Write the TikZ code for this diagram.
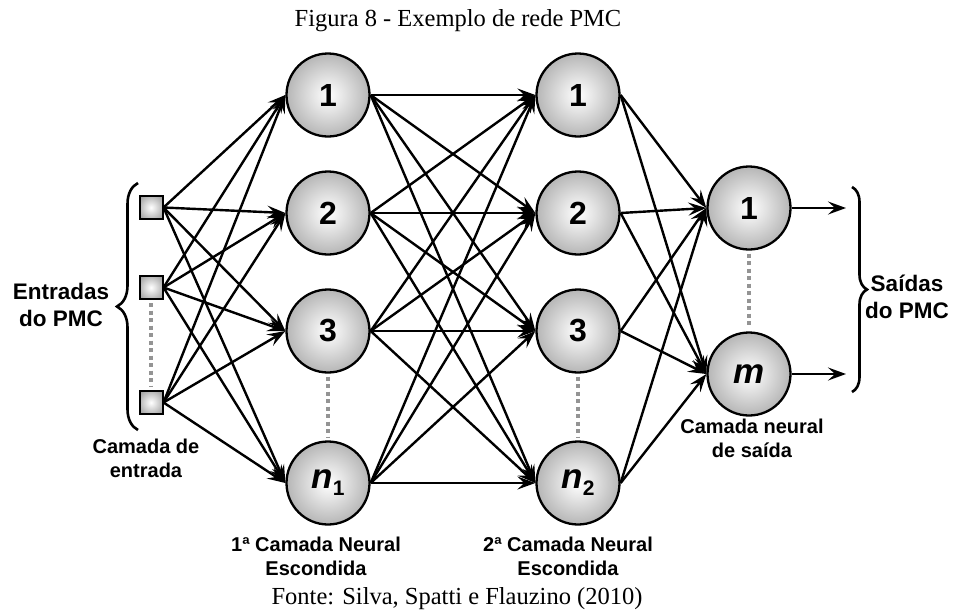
\documentclass[tikz,border=0pt]{standalone}
\usepackage{fontspec}
\setmainfont{Liberation Serif}
\newfontfamily\sans{Liberation Sans}
\usetikzlibrary{arrows.meta,decorations.pathreplacing}

% soft metallic ball: light centre fading to mid grey at the rim
\pgfdeclareradialshading{ball}{\pgfpoint{0bp}{0bp}}{%
  color(0bp)=(white); color(9bp)=(black!10); color(50bp)=(black!58); color(100bp)=(black!58)}

\begin{document}
\begin{tikzpicture}[x=1pt,y=-1pt,
  neuron/.style={circle, draw=black, line width=2.3pt, minimum size=83pt, inner sep=0pt,
    shading=ball, font=\sans\bfseries\fontsize{32}{32}\selectfont},
  inbox/.style={rectangle, draw=black, line width=2pt, minimum size=23pt, inner sep=0pt, shading=ball},
  arr/.style={line width=2.4pt, -{Stealth[length=18pt,width=13pt,inset=7pt]}},
  gap/.style={draw=black!42, line width=4pt, dash pattern=on 4pt off 3.5pt, shorten >=3pt, shorten <=3pt},
  lbl/.style={font=\sans\bfseries\fontsize{20}{24}\selectfont, align=center, inner sep=0pt},
  big/.style={font=\sans\bfseries\fontsize{22.5}{27}\selectfont, align=center, inner sep=0pt},
  caption/.style={font=\fontsize{24.5}{28}\selectfont, inner sep=0pt, anchor=base},
  brc/.style={decorate, line width=2.6pt},
]
\useasboundingbox (0,0) rectangle (954,614);

\newcommand{\nsub}[2]{{\itshape #1}\raisebox{-7pt}{\fontsize{21}{21}\selectfont #2}}

% input layer
\node[inbox] (x1) at (151,207.5) {};
\node[inbox] (x2) at (151,287.5) {};
\node[inbox] (xn) at (151,402.5) {};

% first hidden layer
\node[neuron] (a1) at (328,95) {1};
\node[neuron] (a2) at (328,213) {2};
\node[neuron] (a3) at (328,331) {3};
\node[neuron] (an) at (328,483) {\fontsize{35}{35}\selectfont\nsub{n}{1}};

% second hidden layer
\node[neuron] (b1) at (578,95) {1};
\node[neuron] (b2) at (578,213) {2};
\node[neuron] (b3) at (578,331) {3};
\node[neuron] (bn) at (578,483) {\fontsize{35}{35}\selectfont\nsub{n}{2}};

% output layer
\node[neuron] (o1) at (749,208) {1};
\node[neuron] (om) at (749,374) {\fontsize{35}{35}\selectfont\itshape m};
\coordinate (y1) at (846,208);
\coordinate (ym) at (846,374);

% ellipsis markers
\draw[gap] (x2.south) -- (xn.north);
\draw[gap] (a3.south) -- (an.north);
\draw[gap] (b3.south) -- (bn.north);
\draw[gap] (o1.south) -- (om.north);

% full connections
\foreach \s in {x1,x2,xn}
  \foreach \t in {a1,a2,a3,an}
    \draw[arr] (\s.east) -- (\t.west);
\foreach \s in {a1,a2,a3,an}
  \foreach \t in {b1,b2,b3,bn}
    \draw[arr] (\s.east) -- (\t.west);
\foreach \s in {b1,b2,b3,bn}
  \foreach \t in {o1,om}
    \draw[arr] (\s.east) -- (\t.west);
\draw[arr] (o1.east) -- (y1);
\draw[arr] (om.east) -- (ym);

% braces
\draw[brc, decoration={brace, amplitude=21pt}] (138,430) -- (138,183);
\draw[brc, decoration={brace, amplitude=15pt}] (852,187) -- (852,392);

% labels
\node[big] (inlab) at (61,305) {Entradas\\do PMC};
\node[big] (outlab) at (907,297) {Saídas\\do PMC};
\node[lbl] (inl) at (146,458) {Camada de\\entrada};
\node[lbl] (h1l) at (316,556) {1ª Camada Neural\\Escondida};
\node[lbl] (h2l) at (568,556) {2ª Camada Neural\\Escondida};
\node[lbl] (ol) at (752,438) {Camada neural\\de saída};

\node[caption] (title) at (458,26) {Figura 8 - Exemplo de rede PMC};
\node[caption] (src) at (457,604) {Fonte: Silva, Spatti e Flauzino (2010)};
\end{tikzpicture}
\end{document}
